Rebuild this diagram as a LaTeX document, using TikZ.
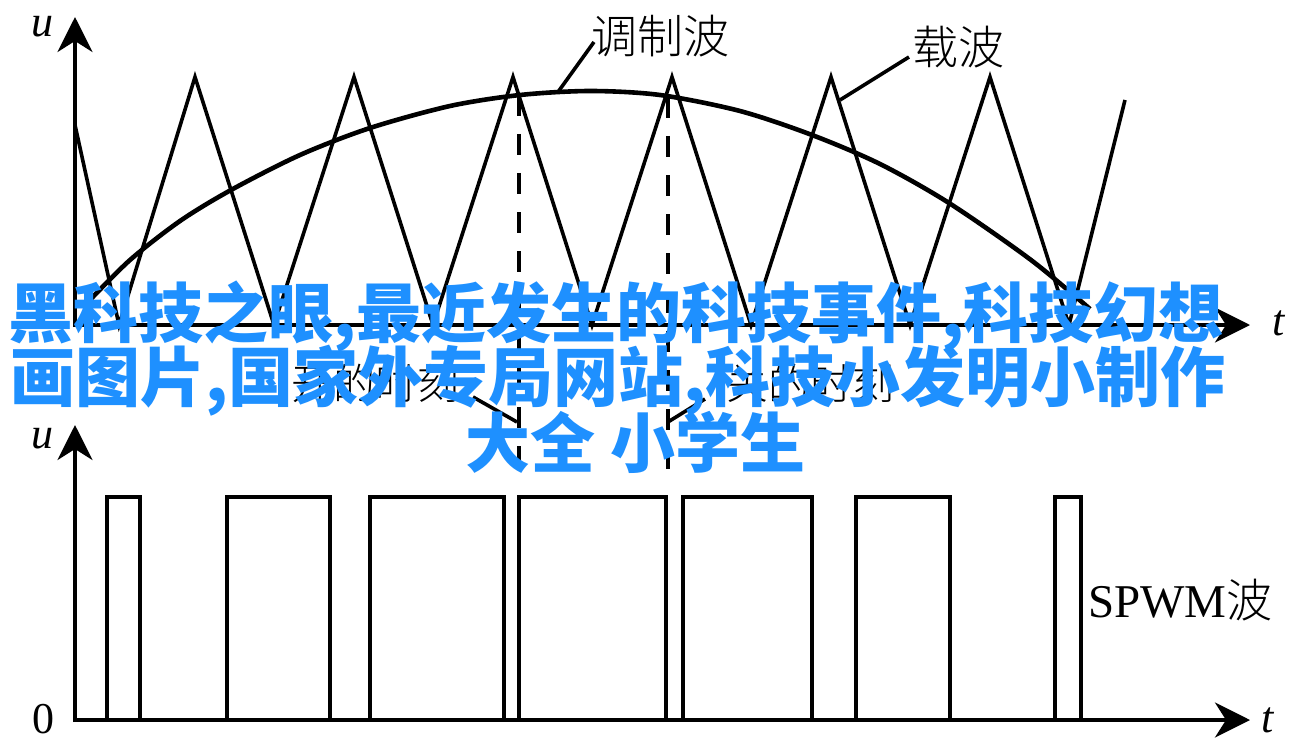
\documentclass[tikz,border=0pt]{standalone}
\usepackage{fontspec}
\setmainfont{Liberation Serif}
\newfontfamily\cjk{Noto Sans CJK SC}
\newfontfamily\cjkl{Noto Sans CJK SC Light}
\usetikzlibrary{arrows.meta}
\definecolor{wmblue}{RGB}{30,144,255}
\begin{document}
\begin{tikzpicture}[x=1pt,y=-1pt,
  axis/.style={line width=4pt, -{Stealth[length=35pt,width=35pt,inset=11pt]}},
  wave/.style={line width=3.6pt, line join=miter},
  modw/.style={line width=4.6pt},
  lead/.style={line width=3.6pt},
  cut/.style={line width=3.4pt, dash pattern=on 21pt off 18pt},
  pulse/.style={line width=4pt, line join=miter},
  lat/.style={inner sep=0pt, font=\fontsize{44}{50}\selectfont},
  cjklab/.style={inner sep=0pt, font=\fontsize{46}{52}\selectfont\cjkl},
  hidlab/.style={inner sep=0pt, font=\fontsize{42}{48}\selectfont\cjkl},
  wm/.style={inner sep=0pt, text=wmblue, font=\fontsize{65}{70}\selectfont\cjk\bfseries},
]
\useasboundingbox (0,0) rectangle (1312,741);
\fill[white] (0,0) rectangle (1312,741);

% ---------- top plot ----------
\coordinate (o1) at (75,327);
\coordinate (o1t) at (73,325);
\coordinate (uTop) at (75,17);
\coordinate (tTop) at (1250,325);
\draw[axis] (o1) -- (uTop);
\draw[axis] (o1t) -- (tTop);
\node[lat, anchor=base] (uLab1) at (42,37) {\itshape u};
\node[lat, anchor=base] (tLab1) at (1279,335) {\itshape t};

% carrier
\coordinate (c0) at (75,125);
\coordinate (c1) at (119,325);
\coordinate (c2) at (195,77);
\coordinate (c3) at (274,325);
\coordinate (c4) at (354,77);
\coordinate (c5) at (433,325);
\coordinate (c6) at (513,77);
\coordinate (c7) at (592,325);
\coordinate (c8) at (672,77);
\coordinate (c9) at (751,325);
\coordinate (c10) at (831,77);
\coordinate (c11) at (910,325);
\coordinate (c12) at (990,77);
\coordinate (c13) at (1069,325);
\coordinate (c14) at (1125,100);
\draw[wave] (c0) -- (c1) -- (c2) -- (c3) -- (c4) -- (c5) -- (c6) -- (c7)
  -- (c8) -- (c9) -- (c10) -- (c11) -- (c12) -- (c13) -- (c14);

% modulating wave
\draw[modw] plot[smooth, tension=0.5] coordinates {(88,302) (130,260) (180,221) (231,190) (300,155) (370,128) (450,106) (520,95) (590,91) (660,95) (740,111) (812,135) (880,164) (949,203) (1031,260) (1090,309)};

% labels and leaders
\node[cjklab] (mod) at (660,36) {调制波};
\node[cjklab] (car) at (958,47) {载波};
\coordinate (modA) at (558,92);
\coordinate (modB) at (594,42);
\coordinate (carA) at (840,100);
\coordinate (carB) at (909,57);
\draw[lead] (modA) -- (modB);
\draw[lead] (carA) -- (carB);

% dashed sampling lines
\coordinate (d1a) at (519,95);
\coordinate (d1b) at (519,483);
\coordinate (d2a) at (668,97);
\coordinate (d2b) at (668,483);
\draw[cut] (d1a) -- (d1b);
\draw[cut] (d2a) -- (d2b);

\node[hidlab] (hl) at (375,383) {开的时刻};
\node[hidlab] (hr) at (810,383) {关的时刻};
\coordinate (hlA) at (473,397);
\coordinate (hlB) at (517,422);
\coordinate (hrA) at (668,422);
\coordinate (hrB) at (705,399);
\draw[lead] (hlA) -- (hlB);
\draw[lead] (hrA) -- (hrB);

% ---------- bottom plot ----------
\coordinate (o2) at (75,722);
\coordinate (o2t) at (73,720);
\coordinate (uBot) at (75,425);
\coordinate (tBot) at (1250,720);
\draw[axis] (o2) -- (uBot);
\draw[axis] (o2t) -- (tBot);
\node[lat, anchor=base] (uLab2) at (42,448) {\itshape u};
\node[lat, anchor=base] (tLab2) at (1268,732) {\itshape t};
\node[lat, anchor=base] (zero) at (43,733) {0};
\node[lat, anchor=base west, font=\fontsize{47}{52}\selectfont] (spwm) at (1088,617) {SPWM{\cjkl\fontsize{46}{52}\selectfont 波}};

\foreach \a/\b in {107/140, 227/330, 370/504, 519/666, 683/812, 856/950, 1055/1081}{
  \draw[pulse] (\a,720) -- (\a,497) -- (\b,497) -- (\b,720);
}

% ---------- watermark ----------
\node[wm, anchor=base west] (w1) at (8,337) {黑科技之眼,最近发生的科技事件,科技幻想};
\node[wm, anchor=base west] (w2) at (10,401) {画图片,国家外专局网站,科技小发明小制作};
\node[wm, anchor=base west] (w3) at (465,467) {大全 小学生};
\end{tikzpicture}
\end{document}
